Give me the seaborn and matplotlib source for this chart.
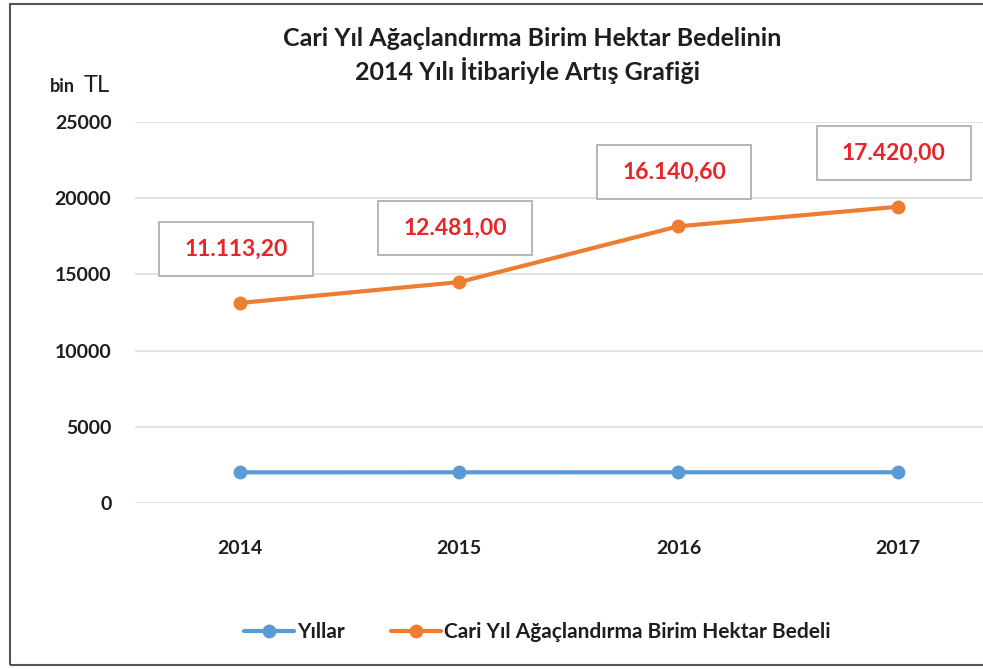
import matplotlib.pyplot as plt
import matplotlib.patches as mpatches
import numpy as np
import pandas as pd
import seaborn as sns

# data (Excel stacked line: orange sits on top of the year series)
years = [2014, 2015, 2016, 2017]
year_labels = ["2014", "2015", "2016", "2017"]
cost = [11113.20, 12481.00, 16140.60, 17420.00]
cost_labels = ["11.113,20", "12.481,00", "16.140,60", "17.420,00"]
y_ticks = [0, 5000, 10000, 15000, 20000, 25000]

BLUE = "#5B9BD5"
ORANGE = "#ED7D31"
RED = "#E8262A"
DARK = "#1E1E1E"

sns.set_theme(style="white")
plt.rcParams["font.family"] = ["Lato", "DejaVu Sans"]

df = pd.DataFrame({
    "pos": range(len(years)),
    "Yıllar": years,
    "Cari Yıl Ağaçlandırma Birim Hektar Bedeli": np.array(years) + np.array(cost),
})
long = df.melt(id_vars="pos", var_name="series", value_name="value")

W, H = 983, 669
fig = plt.figure(figsize=(W / 100, H / 100), dpi=100)
ax = fig.add_axes([135 / W, 1 - 503 / H, (983 - 135) / W, (503 - 122) / H])

sns.lineplot(
    data=long, x="pos", y="value", hue="series",
    palette=[BLUE, ORANGE], marker="o", markersize=10, markeredgewidth=0,
    linewidth=3, ax=ax, legend=False,
)

ax.set_xlim(-0.48, 3.39)
ax.set_ylim(0, 25000)
ax.set_yticks(y_ticks)
ax.set_yticklabels([str(t) for t in y_ticks], fontsize=14, fontweight="bold", color=DARK)
ax.set_xticks(range(len(years)))
ax.set_xticklabels(year_labels, fontsize=14, fontweight="bold", color=DARK)
ax.tick_params(axis="x", pad=27, length=0)
ax.tick_params(axis="y", pad=17, length=0)
ax.set_xlabel("")
ax.set_ylabel("")
ax.grid(axis="y", color="#E3E3E3", linewidth=1.5)
for s in ax.spines.values():
    s.set_visible(False)

# data labels in fixed-size boxes above the orange points (pixel space)
box_w, box_h = 154, 54
for i, (v, lab) in enumerate(zip(df.iloc[:, 2], cost_labels)):
    px, py = ax.transData.transform((i, v))
    cx, cy = px - 4, py + 54
    fig.patches.append(mpatches.Rectangle(
        (cx - box_w / 2, cy - box_h / 2), box_w, box_h, transform=None,
        fc="white", ec="#B0B0B0", lw=1.3, zorder=3))
    fig.text(cx / W, cy / H, lab, ha="center", va="center", fontsize=16.5,
             fontweight="bold", color=RED, zorder=4)

fig.text(532 / W, 1 - 38 / H, "Cari Yıl Ağaçlandırma Birim Hektar Bedelinin",
         ha="center", va="center", fontsize=18, fontweight="bold", color=DARK)
fig.text(528 / W, 1 - 71 / H, "2014 Yılı İtibariyle Artış Grafiği",
         ha="center", va="center", fontsize=18, fontweight="bold", color=DARK)

fig.text(50 / W, 1 - 87 / H, "bin", ha="left", va="center", fontsize=13,
         fontweight="bold", color=DARK)
fig.text(84 / W, 1 - 85 / H, "TL", ha="left", va="center", fontsize=17, color=DARK)

# legend
handles = [
    plt.Line2D([0], [0], color=BLUE, lw=3, marker="o", markersize=10, markeredgewidth=0),
    plt.Line2D([0], [0], color=ORANGE, lw=3, marker="o", markersize=10, markeredgewidth=0),
]
fig.legend(
    handles, ["Yıllar", "Cari Yıl Ağaçlandırma Birim Hektar Bedeli"],
    loc="center", bbox_to_anchor=(537 / W, 1 - 632 / H), ncol=2, frameon=False,
    prop={"weight": "bold", "size": 15}, handlelength=2.4, handletextpad=0.15,
    columnspacing=2.2, labelcolor=DARK,
)

# outer frame
fig.patches.append(mpatches.Rectangle(
    (10 / W, 1 - 665 / H), (W + 10) / W, 661 / H, transform=fig.transFigure,
    fill=False, ec="#555555", lw=1.5))

fig.savefig("out.png", dpi=100)
